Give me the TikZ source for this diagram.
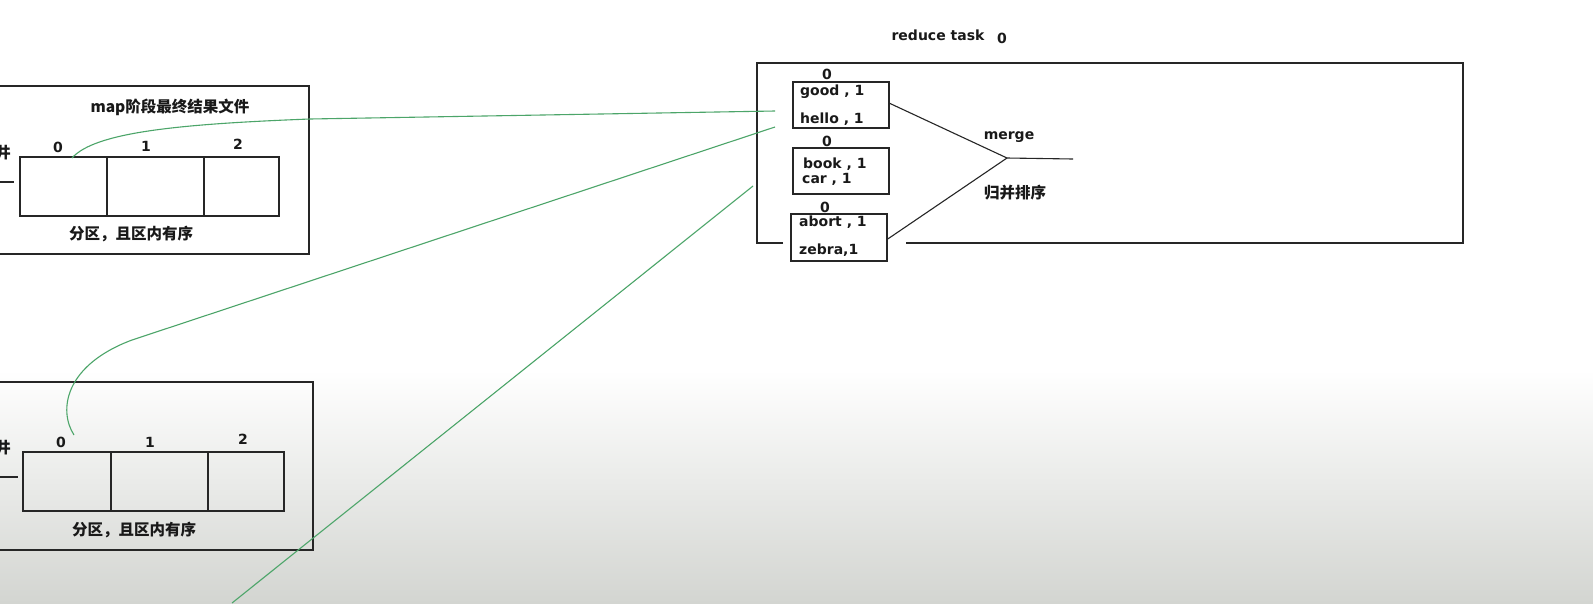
\documentclass[tikz,border=0pt]{standalone}
\usepackage{fontspec}
\setmainfont{DejaVu Sans}
\newfontfamily\cjk{Noto Sans CJK SC}
\definecolor{linkgreen}{RGB}{76,165,105}
\definecolor{bgbottom}{RGB}{211,213,209}
\begin{document}
\begin{tikzpicture}[x=1pt,y=-1pt,
  frame/.style={draw=black!85, line width=1.4pt},
  cell/.style={frame, anchor=north west, inner sep=0pt, outer sep=0pt},
  lbl/.style={font=\bfseries\fontsize{14}{14}\selectfont, inner sep=0pt, text=black!90},
  cjklbl/.style={font=\cjk\bfseries\fontsize{15.5}{16}\selectfont, inner sep=0pt, text=black!90},
  link/.style={draw=linkgreen, line width=1.1pt},
  wire/.style={draw=black!85, line width=1.1pt}]
\useasboundingbox (0,0) rectangle (1593,603);
\fill[white] (0,0) rectangle (1593,370);
\shade[top color=white, bottom color=bgbottom] (0,370) rectangle (1593,603);

% top map output box
\node[cell, minimum width=320, minimum height=168] (maptop) at (-11,86) {};
\node[cjklbl] (maptitle) at (170,107) {map阶段最终结果文件};
\node[cell, minimum width=87, minimum height=59] (c0) at (20,157) {};
\node[cell, minimum width=97, minimum height=59] (c1) at (107,157) {};
\node[cell, minimum width=75, minimum height=59] (c2) at (204,157) {};
\node[lbl] (c0l) at (58,147) {0};
\node[lbl] (c1l) at (146,146) {1};
\node[lbl] (c2l) at (238,144) {2};
\node[cjklbl] (cutA) at (3,153) {井};
\coordinate (lineAa) at (0,182);
\coordinate (lineAb) at (14,182);
\draw[wire] (lineAa) -- (lineAb);
\node[cjklbl] (partA) at (131,234) {分区，且区内有序};

% bottom map output box
\node[cell, minimum width=326, minimum height=168] (mapbot) at (-13,382) {};
\node[cell, minimum width=88, minimum height=59] (d0) at (23,452) {};
\node[cell, minimum width=97, minimum height=59] (d1) at (111,452) {};
\node[cell, minimum width=76, minimum height=59] (d2) at (208,452) {};
\node[lbl] (d0l) at (61,442) {0};
\node[lbl] (d1l) at (150,442) {1};
\node[lbl] (d2l) at (243,439) {2};
\node[cjklbl] (cutB) at (3,448) {井};
\coordinate (lineBa) at (0,477);
\coordinate (lineBb) at (18,477);
\draw[wire] (lineBa) -- (lineBb);
\node[cjklbl] (partB) at (134,530) {分区，且区内有序};

% reduce task
\node[lbl] (rtitle) at (938,35) {reduce task};
\node[lbl] (rnum) at (1002,38) {0};
\draw[frame] (783,243) -- (757,243) -- (757,63) -- (1463,63) -- (1463,243) -- (906,243);

\node[cell, minimum width=96, minimum height=46] (b1) at (793,82) {};
\node[lbl] (b1n) at (827,74) {0};
\node[lbl, anchor=west] (b1a) at (800,92) {good , 1};
\node[lbl, anchor=west] (b1b) at (800,119) {hello , 1};

\node[cell, minimum width=96, minimum height=46] (b2) at (793,148) {};
\node[lbl] (b2n) at (827,141) {0};
\node[lbl, anchor=west] (b2a) at (803,164) {book , 1};
\node[lbl, anchor=west] (b2b) at (802,179) {car , 1};

\node[cell, minimum width=96, minimum height=47] (b3) at (791,214) {};
\node[lbl] (b3n) at (825,207) {0};
\node[lbl, anchor=west] (b3a) at (799,222) {abort , 1};
\node[lbl, anchor=west] (b3b) at (799,250) {zebra,1};

\coordinate (m) at (1007,158);
\coordinate (mout) at (1073,159);
\draw[wire] (b1.east) ++(0,-2) -- (m);
\draw[wire] (b3.east) ++(0,2) -- (m);
\draw[wire] (m) -- (mout);
\node[lbl] (mergel) at (1009,137) {merge};
\node[cjklbl] (sortl) at (1015,193) {归并排序};

% green links
\coordinate (g1) at (775,111);
\coordinate (g2) at (775,127);
\coordinate (g3) at (753,186);
\coordinate (g3s) at (232,603);
\draw[link] (72,158) .. controls (95,132) and (180,124) .. (310,119) -- (g1);
\draw[link] (74,435) .. controls (58,410) and (65,365) .. (132,340) -- (g2);
\draw[link] (g3s) -- (g3);
\end{tikzpicture}
\end{document}
